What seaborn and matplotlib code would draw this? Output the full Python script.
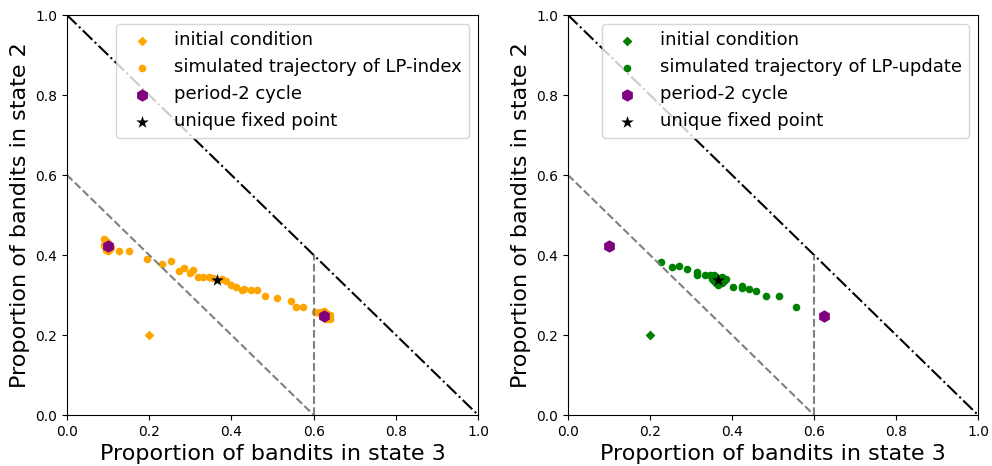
import numpy as np
import pandas as pd
import seaborn as sns
import matplotlib.pyplot as plt

# initial condition (state 3, state 2)
init_x = [0.2]
init_y = [0.2]

# period-2 cycle
cycle_x = [0.1, 0.625]
cycle_y = [0.422, 0.2475]

# unique fixed point
fixed_x = [0.365]
fixed_y = [0.338]

# simulated trajectory of LP-index
lpi_x = [0.09, 0.095, 0.09, 0.1, 0.105, 0.1, 0.092, 0.108, 0.095, 0.127, 0.152,
         0.194, 0.232, 0.252, 0.2725, 0.2855, 0.299, 0.306, 0.3195, 0.33, 0.346,
         0.355, 0.376, 0.386, 0.4, 0.41, 0.426, 0.431, 0.447, 0.461, 0.481, 0.511,
         0.544, 0.557, 0.575, 0.603, 0.615, 0.62, 0.625, 0.63, 0.635, 0.64, 0.63,
         0.62, 0.64, 0.633, 0.613]
lpi_y = [0.44, 0.435, 0.425, 0.43, 0.415, 0.41, 0.42, 0.42, 0.412, 0.41, 0.41,
         0.389, 0.3775, 0.385, 0.361, 0.3675, 0.354, 0.3625, 0.344, 0.344, 0.344,
         0.342, 0.34, 0.336, 0.324, 0.32, 0.313, 0.316, 0.313, 0.313, 0.297, 0.2925,
         0.286, 0.27, 0.27, 0.2575, 0.258, 0.255, 0.26, 0.255, 0.245, 0.24, 0.24,
         0.25, 0.25, 0.248, 0.255]

# simulated trajectory of LP-update
lpu_x = [0.226, 0.2537, 0.2707, 0.2895, 0.314, 0.314, 0.334, 0.345, 0.35, 0.355,
         0.36, 0.365, 0.37, 0.375, 0.38, 0.385, 0.36, 0.365, 0.37, 0.355, 0.35,
         0.375, 0.4017, 0.4236, 0.425, 0.442, 0.4585, 0.4837, 0.514, 0.5553]
lpu_y = [0.382, 0.371, 0.373, 0.366, 0.357, 0.35, 0.35, 0.35, 0.345, 0.35,
         0.345, 0.34, 0.335, 0.33, 0.335, 0.34, 0.33, 0.325, 0.33, 0.335, 0.34,
         0.345, 0.319, 0.3225, 0.3175, 0.314, 0.31, 0.297, 0.297, 0.27]

panels = [("orange", "simulated trajectory of LP-index", lpi_x, lpi_y),
          ("green", "simulated trajectory of LP-update", lpu_x, lpu_y)]

fig = plt.figure(figsize=(9.92, 4.66), dpi=100)
ax1 = fig.add_axes([0.0675, 0.1094, 0.4145, 0.8584])
ax2 = fig.add_axes([0.5726, 0.1094, 0.4134, 0.8584])

for ax, (col, traj_label, tx, ty) in zip([ax1, ax2], panels):
    ax.plot([0, 1], [1, 0], color="black", linestyle="-.")
    ax.plot([0, 0.6], [0.6, 0], color="gray", linestyle="--")
    ax.plot([0.6, 0.6], [0, 0.4], color="gray", linestyle="--")

    sns.scatterplot(x=init_x, y=init_y, ax=ax, marker="D", color=col, s=25,
                    linewidth=0, label="initial condition")
    sns.scatterplot(x=tx, y=ty, ax=ax, marker="o", color=col, s=30,
                    linewidth=0, label=traj_label)
    sns.scatterplot(x=cycle_x, y=cycle_y, ax=ax, marker="h", color="purple", s=80,
                    linewidth=0, label="period-2 cycle", zorder=3)
    sns.scatterplot(x=fixed_x, y=fixed_y, ax=ax, marker="*", color="black", s=90,
                    linewidth=0, label="unique fixed point", zorder=4)

    ax.set_xlim(0, 1)
    ax.set_ylim(0, 1)
    ax.set_xlabel("Proportion of bandits in state 3", fontsize=16)
    ax.set_ylabel("Proportion of bandits in state 2", fontsize=16)
    ax.legend(loc="upper right", fontsize=13)

plt.savefig("out.png", dpi=100)
